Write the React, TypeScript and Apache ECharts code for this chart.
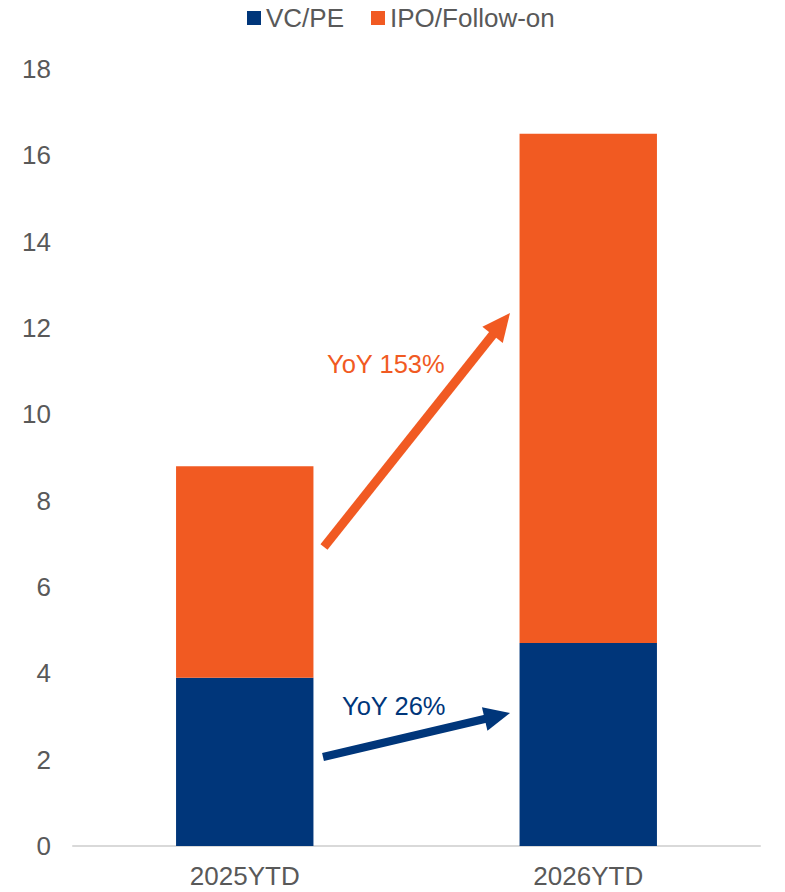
import React, { useEffect, useRef } from "react";
import * as echarts from "echarts";

const categories = ["2025YTD", "2026YTD"];
const vcpe = [3.9, 4.7];
const ipo = [4.9, 11.8];
const seriesNames = ["VC/PE", "IPO/Follow-on"];
const yoyLabels = ["YoY 26%", "YoY 153%"];

const BLUE = "#00367A";
const ORANGE = "#F15A22";
const GRAY = "#595959";
const FONT = "Liberation Sans, Arial, sans-serif";

function arrow(x1: number, y1: number, x2: number, y2: number, color: string, lw: number, hl: number, hw: number) {
  const dx = x2 - x1;
  const dy = y2 - y1;
  const len = Math.sqrt(dx * dx + dy * dy);
  const ux = dx / len;
  const uy = dy / len;
  const bx = x2 - ux * hl;
  const by = y2 - uy * hl;
  const px = -uy;
  const py = ux;
  return [
    {
      type: "line",
      shape: { x1, y1, x2: bx + ux * 2, y2: by + uy * 2 },
      style: { stroke: color, lineWidth: lw },
      silent: true,
    },
    {
      type: "polygon",
      shape: {
        points: [
          [x2, y2],
          [bx + (px * hw) / 2, by + (py * hw) / 2],
          [bx - (px * hw) / 2, by - (py * hw) / 2],
        ],
      },
      style: { fill: color },
      silent: true,
    },
  ];
}

export default function App() {
  const ref = useRef<HTMLDivElement>(null);
  useEffect(() => {
    if (!ref.current) return;
    const chart = echarts.init(ref.current, null, { renderer: "svg" });
    chart.setOption({
      animation: false,
      backgroundColor: "#fff",
      textStyle: { fontFamily: FONT },
      legend: {
        top: 0,
        left: 242,
        itemWidth: 14,
        itemHeight: 14,
        itemGap: 27,
        icon: "rect",
        textStyle: { fontSize: 26, color: GRAY, fontFamily: FONT, padding: [0, 0, 0, 0] },
        data: seriesNames,
      },
      grid: { left: 73, right: 25, top: 69, bottom: 46, containLabel: false },
      xAxis: {
        type: "category",
        data: categories,
        axisLine: { lineStyle: { color: "#d9d9d9", width: 2 } },
        axisTick: { show: false },
        axisLabel: { fontSize: 26, color: GRAY, margin: 17, fontFamily: FONT },
      },
      yAxis: {
        type: "value",
        min: 0,
        max: 18,
        interval: 2,
        axisLine: { show: false },
        axisTick: { show: false },
        splitLine: { show: false },
        axisLabel: { fontSize: 26, color: GRAY, margin: 22, fontFamily: FONT },
      },
      series: [
        {
          name: seriesNames[0],
          type: "bar",
          stack: "total",
          data: vcpe,
          barWidth: "40%",
          itemStyle: { color: BLUE },
        },
        {
          name: seriesNames[1],
          type: "bar",
          stack: "total",
          data: ipo,
          barWidth: "40%",
          itemStyle: { color: ORANGE },
        },
      ],
      graphic: [
        ...arrow(323, 757, 510, 713, BLUE, 8, 26, 24),
        ...arrow(324, 547, 510, 313, ORANGE, 9, 28, 26),
        {
          type: "text",
          x: 342,
          y: 706,
          style: {
            text: yoyLabels[0],
            fill: BLUE,
            fontSize: 25.5,
            fontFamily: FONT,
            textVerticalAlign: "middle",
            verticalAlign: "middle",
          },
        },
        {
          type: "text",
          x: 327,
          y: 364,
          style: {
            text: yoyLabels[1],
            fill: ORANGE,
            fontSize: 25.5,
            fontFamily: FONT,
            textVerticalAlign: "middle",
            verticalAlign: "middle",
          },
        },
      ],
    });
    return () => chart.dispose();
  }, []);
  return (
    <div
      ref={ref}
      style={{ position: "fixed", left: 0, top: 0, width: 785, height: 892 }}
    />
  );
}
